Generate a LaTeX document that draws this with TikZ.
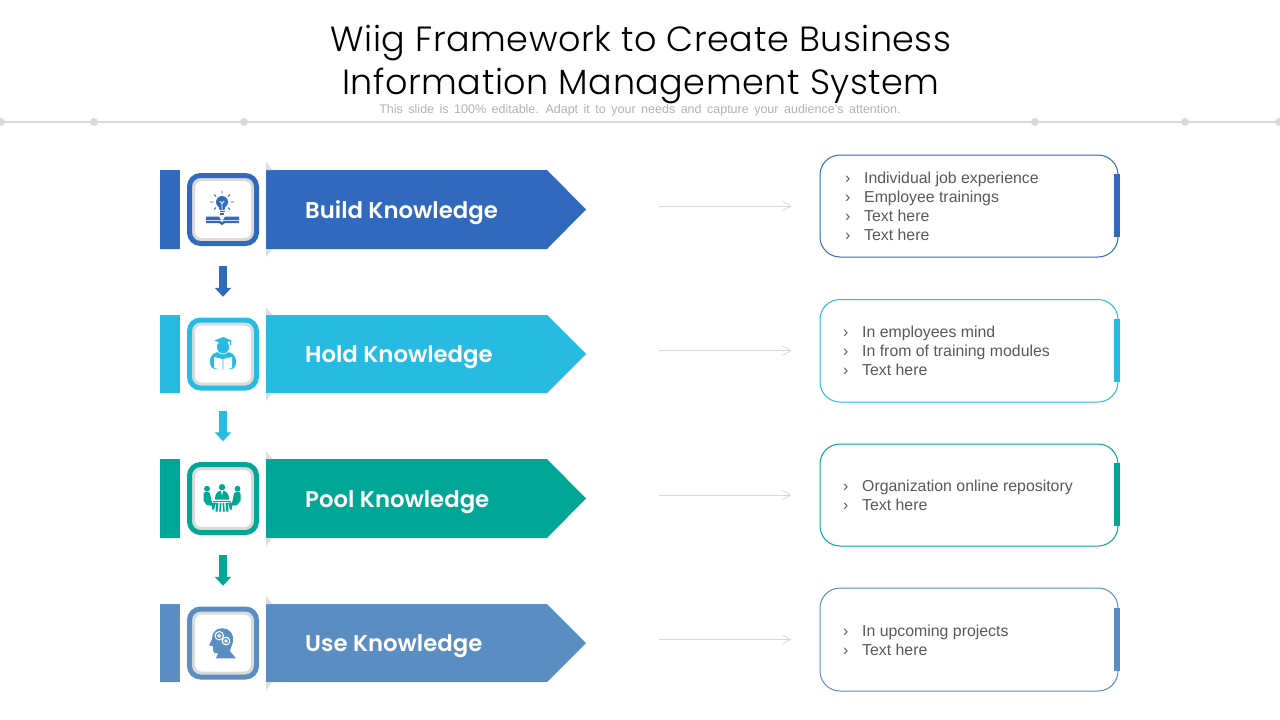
\documentclass[tikz,border=0pt]{standalone}
\usepackage{fontspec}
\usetikzlibrary{arrows.meta}
\setmainfont{Liberation Sans}
\newfontfamily\headfont[BoldFont=Poppins SemiBold]{Poppins}
\newfontfamily\titlefont[LetterSpace=1.5]{Poppins Light}
\definecolor{cblue}{HTML}{3169BD}
\definecolor{ccyan}{HTML}{27BBE1}
\definecolor{cteal}{HTML}{00A796}
\definecolor{csteel}{HTML}{5A8EC2}
\definecolor{rulegray}{HTML}{D9D9D9}
\definecolor{txt}{HTML}{595959}
\tikzset{
  x=1pt,y=-1pt,
  title/.style={font=\titlefont\fontsize{35}{43}\selectfont,align=center,text=black,inner sep=0},
  subtitle/.style={font=\fontsize{12.5}{14}\selectfont,text=black!30,inner sep=0},
  headlabel/.style={font=\headfont\bfseries\fontsize{22.8}{26}\selectfont,text=white,anchor=west,inner sep=0},
  bodytext/.style={font=\fontsize{15.85}{19}\selectfont,text=txt,align=left,anchor=west,inner sep=0},
  card/.style={fill=white,minimum width=86pt,minimum height=96pt,inner sep=0,draw=none},
  flowarrow/.style={line width=8pt,-{Triangle[width=16pt,length=9pt]},shorten <=8.5pt,shorten >=9pt},
  ghost/.style={draw=rulegray,line width=0.8pt,-{Straight Barb[length=8pt,width=9pt,line width=0.8pt]},shorten <=73pt,shorten >=28pt},
  infobox/.style={draw,rounded corners=20pt,line width=1pt,fill=white,minimum width=298pt,inner sep=0},
}
\newcommand{\banner}[5]{% name, colour, top, bottom, label
  \pgfmathsetmacro{\mid}{(#3+#4)/2}
  \fill[#2] (160,#3) -- (547,#3) -- (586,\mid) -- (547,#4) -- (160,#4) -- cycle;
  \coordinate (tip#1) at (586,\mid);
  \fill[black!13] (266,#3-8) -- (272.5,#3) -- (266,#3) -- cycle;
  \fill[black!13] (266,#4+8) -- (272.5,#4) -- (266,#4) -- cycle;
  \node[card] (card#1) at (223,\mid) {};
  \draw[black!14,line width=5pt,rounded corners=9pt,fill=white] (192.5,\mid-31) rectangle (253.5,\mid+31);
  \draw[#2,line width=5pt,rounded corners=11pt] (189.5,\mid-34) rectangle (256.5,\mid+34);
  \node[headlabel] (lab#1) at (305,\mid+3.5) {#5};
}
\newcommand{\infobox}[6]{% name, colour, top, bottom, text x, text
  \pgfmathsetmacro{\mid}{(#3+#4)/2}
  \pgfmathsetmacro{\hh}{#4-#3}
  \node[infobox,draw=#2,minimum height=\hh pt] (box#1) at (969,\mid) {};
  \fill[#2] (1114,\mid-32) rectangle (1120,\mid+31);
  \node[bodytext] (txt#1) at (#5,\mid+0.5) {#6};
}
\newcommand{\itm}[1]{\makebox[19pt][l]{›}#1}
\begin{document}
\begin{tikzpicture}
\useasboundingbox (0,0) rectangle (1280,720);
\fill[white] (0,0) rectangle (1280,720);
% header
\node[title] (ttl) at (641,64.5) {Wiig Framework to Create Business\\Information Management System};
\draw[rulegray,line width=2pt] (0,122) -- (1280,122);
\foreach \dx in {1,94,244,1035,1185,1279} \fill[rulegray] (\dx,122) circle (4);
\node[subtitle] (sub) at (640,110.5) {\spaceskip=0.44em This slide is 100\% editable. Adapt it to your needs and capture your audience’s attention.};
% banners
\banner{1}{cblue}{170}{249}{Build Knowledge}
\banner{2}{ccyan}{315}{393}{Hold Knowledge}
\banner{3}{cteal}{459}{538}{Pool Knowledge}
\banner{4}{csteel}{604}{682}{Use Knowledge}
% flow arrows
\draw[flowarrow,cblue] (card1.south) -- (card2.north);
\draw[flowarrow,ccyan] (card2.south) -- (card3.north);
\draw[flowarrow,cteal] (card3.south) -- (card4.north);
% info boxes
\infobox{1}{cblue}{155}{257}{845}{\itm{Individual job experience}\\\itm{Employee trainings}\\\itm{Text here}\\\itm{Text here}}
\infobox{2}{ccyan}{299.5}{402}{843}{\itm{In employees mind}\\\itm{In from of training modules}\\\itm{Text here}}
\infobox{3}{cteal}{444}{546}{843}{\itm{Organization online repository}\\\itm{Text here}}
\infobox{4}{csteel}{588}{691}{843}{\itm{In upcoming projects}\\\itm{Text here}}
\foreach \n in {1,2,3,4} \draw[ghost] (tip\n |- box\n.west) -- (box\n.west);
% icon 1: bulb over book
\begin{scope}[shift={(223,209.5)},cblue]
  \fill (-1,-7.5) circle (6);
  \fill (-4.5,-4) -- (2.5,-4) -- (1.5,0.5) -- (-3.5,0.5) -- cycle;
  \fill (-3.5,1.4) rectangle (1.5,2.8);
  \fill (-3,3.6) rectangle (1,5.2);
  \draw[white,line width=0.8pt] (-1,0) -- (-1,-6) (-3.2,-8.5) -- (-1,-6) -- (1.2,-8.5);
  \draw[line width=0.9pt] (-9,-15) -- (-7,-13) (7,-15) -- (5,-13) (-1,-19) -- (-1,-16)
     (-13,-7.5) -- (-9.5,-7.5) (7.5,-7.5) -- (11,-7.5) (-9,0) -- (-7,-2) (7,0) -- (5,-2);
  \fill (-17,7.2) -- (-4,7.2) -- (-2,10.5) -- (-17,10.5) -- cycle;
  \fill (16,7.2) -- (2,7.2) -- (0,10.5) -- (16,10.5) -- cycle;
  \fill (-17,11.3) -- (-3,11.3) -- (-1,12.5) -- (1,11.3) -- (16,11.3) -- (16,13.5) -- (2,13.5) -- (-1,15.5) -- (-4,13.5) -- (-17,13.5) -- cycle;
\end{scope}
% icon 2: graduate with book
\begin{scope}[shift={(223,354)},ccyan]
  \fill (-13,8) .. controls (-13,0) and (-8,-2) .. (-3,-2) -- (3,-2) .. controls (8,-2) and (13,0) .. (13,8) .. controls (13,13) and (10,15) .. (8,15) -- (-8,15) .. controls (-10,15) and (-13,13) .. (-13,8) -- cycle;
  \filldraw[fill=ccyan,draw=white,line width=0.7pt] (0,-7) ellipse (6.5 and 7);
  \fill (0,-17) -- (8.5,-13.5) -- (0,-10) -- (-8.5,-13.5) -- cycle;
  \draw[line width=0.7pt] (7.5,-13.5) -- (7.5,-9);
  \fill[white] (-9,3) -- (-0.4,5) -- (-0.4,15.8) -- (-9,14) -- cycle;
  \fill[white] (9,3) -- (0.4,5) -- (0.4,15.8) -- (9,14) -- cycle;
\end{scope}
% icon 3: meeting
\begin{scope}[shift={(223,498.7)},cteal]
  \fill (-16,-10) circle (2.9); \fill (-1,-11.5) circle (3.2); \fill (14.5,-10) circle (2.9);
  \fill (-8,1) .. controls (-8,-6) and (-5,-8) .. (-1,-8) .. controls (3,-8) and (6,-6) .. (6,1) -- cycle;
  \fill[white] (-2.2,-8) -- (-1,-3.5) -- (0.2,-8) -- cycle;
  \fill (-19.5,-5) .. controls (-19,-7.5) and (-14,-7.5) .. (-13,-5) -- (-12,0) -- (-11,4) -- (-7,4) -- (-9,11) -- (-11,11) -- (-11,7) -- (-16,6.5) -- (-19.5,2) -- cycle;
  \fill (17.5,-5) .. controls (17,-7.5) and (12,-7.5) .. (11,-5) -- (10,0) -- (9,4) -- (5,4) -- (7,11) -- (9,11) -- (9,7) -- (14,6.5) -- (17.5,2) -- cycle;
  \fill[white] (-11,0.9) rectangle (9,1.8);
  \fill (-10,2.2) rectangle (8,3.4);
  \fill (-7,4.2) -- (-4.6,4.2) -- (-5.4,13) -- (-7.5,13) -- cycle;
  \fill (-3.2,4.2) -- (-1.6,4.2) -- (-2,13) -- (-3.8,13) -- cycle;
  \fill (-0.4,4.2) -- (1.2,4.2) -- (1.8,13) -- (0,13) -- cycle;
  \fill (2.6,4.2) -- (5,4.2) -- (5.5,13) -- (3.4,13) -- cycle;
\end{scope}
% icon 4: head with gears
\begin{scope}[shift={(223,643.3)},csteel]
  \fill (-1,-15) .. controls (8,-15) and (11,-8) .. (10,-2) .. controls (9.5,2) and (7,5) .. (7,8) -- (13,15) -- (-7,15) -- (-5,10) .. controls (-8,10) and (-10,10) .. (-10,7) -- (-10,3) -- (-14,2) -- (-11,-4) .. controls (-11,-11) and (-7,-15) .. (-1,-15) -- cycle;
  \draw[white,line width=1.1pt] (-3.7,-7.6) circle (4.2);
  \draw[white,line width=0.9pt] (-3.7,-7.6) circle (1.5);
  \draw[white,line width=1.1pt] (3,-2.3) circle (3.8);
  \draw[white,line width=0.9pt] (3,-2.3) circle (1.3);
\end{scope}
\end{tikzpicture}
\end{document}
